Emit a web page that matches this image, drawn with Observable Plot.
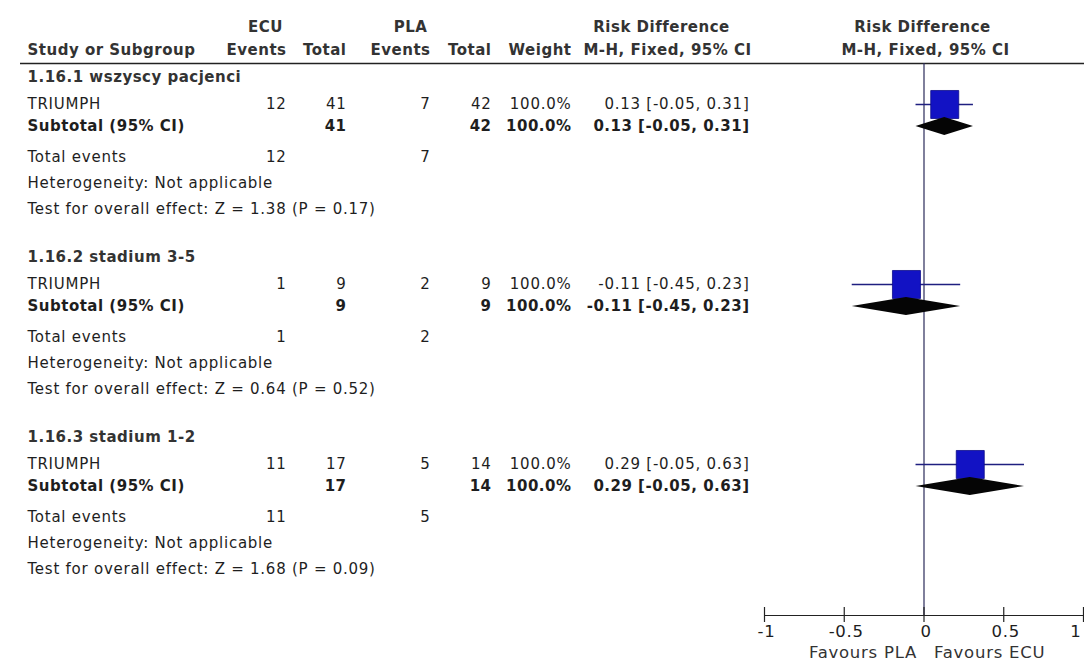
<!DOCTYPE html>
<html>
<head>
<meta charset="utf-8">
<script src="https://cdn.jsdelivr.net/npm/d3@7"></script>
<script src="https://cdn.jsdelivr.net/npm/@observablehq/plot@0.6"></script>
<style>
  html, body { margin: 0; padding: 0; background: #fff; }
  #chart { width: 1084px; height: 660px; }
  svg text { letter-spacing: 0.75px; }
  svg g[font-weight="bold"] text { letter-spacing: 0.5px; }
</style>
</head>
<body>
<div id="chart"></div>
<script>
// ---- Data ----
const groups = ["1.16.1 wszyscy pacjenci", "1.16.2 stadium 3-5", "1.16.3 stadium 1-2"];
const studies = ["TRIUMPH", "TRIUMPH", "TRIUMPH"];
const ecuEvents = [12, 1, 11];
const ecuTotal = [41, 9, 17];
const plaEvents = [7, 2, 5];
const plaTotal = [42, 9, 14];
const weights = ["100.0%", "100.0%", "100.0%"];
const riskDiff = [0.13, -0.11, 0.29];
const ciLow = [-0.05, -0.45, -0.05];
const ciHigh = [0.31, 0.23, 0.63];
const heterogeneity = ["Not applicable", "Not applicable", "Not applicable"];
const zValues = ["1.38", "0.64", "1.68"];
const pValues = ["0.17", "0.52", "0.09"];
const xTicks = [-1, -0.5, 0, 0.5, 1];
const xTickLabels = ["-1", "-0.5", "0", "0.5", "1"];
const favoursLeft = "Favours PLA";
const favoursRight = "Favours ECU";

// ---- Layout (pixels) ----
const W = 1084, H = 660;
const FS = 15;
const FS_AXIS = 16.5;
const FONT = '"DejaVu Sans", "Liberation Sans", Arial, sans-serif';
const groupTop = (g) => 77 + g * 180;
const OFF = {head: 0, study: 27, sub: 49, tot: 80, het: 106, test: 132};
const colX = {label: 27, ecuEv: 286, ecuTot: 346, plaEv: 430, plaTot: 491, weight: 571, ci: 749};
const axisY = 615, headerLine = 63;

const fmt = (v) => v.toFixed(2);
const ciText = (i) => `${fmt(riskDiff[i])} [${fmt(ciLow[i])}, ${fmt(ciHigh[i])}]`;

const rows = groups.map((name, i) => ({
  i, name, study: studies[i],
  ee: ecuEvents[i], et: ecuTotal[i], pe: plaEvents[i], pt: plaTotal[i],
  w: weights[i], rd: riskDiff[i], lo: ciLow[i], hi: ciHigh[i],
  ci: ciText(i),
  het: `Heterogeneity: ${heterogeneity[i]}`,
  test: `Test for overall effect: Z = ${zValues[i]} (P = ${pValues[i]})`,
  yHead: groupTop(i) + OFF.head, yStudy: groupTop(i) + OFF.study, ySub: groupTop(i) + OFF.sub,
  yTot: groupTop(i) + OFF.tot, yHet: groupTop(i) + OFF.het, yTest: groupTop(i) + OFF.test
}));

const diamond = rows.flatMap(r => [
  {g: r.i, x: r.lo, y1: r.ySub, y2: r.ySub},
  {g: r.i, x: r.rd, y1: r.ySub - 9, y2: r.ySub + 9},
  {g: r.i, x: r.hi, y1: r.ySub, y2: r.ySub}
]);

const textColor = "#1e1e1e";
const headColor = "#333";

function col(data, text, y, dx, anchor = "end", weight = "normal", fill = textColor) {
  return Plot.text(data, {text, y, frameAnchor: "left", dx, textAnchor: anchor, fontWeight: weight, fill, fontSize: FS});
}

const headers1 = [
  {t: "ECU", x: 265}, {t: "PLA", x: 410}, {t: "Risk Difference", x: 661}, {t: "Risk Difference", x: 922}
];
const headers2 = [
  {t: "Study or Subgroup", x: colX.label, a: "start"},
  {t: "Events", x: colX.ecuEv, a: "end"}, {t: "Total", x: colX.ecuTot, a: "end"},
  {t: "Events", x: colX.plaEv, a: "end"}, {t: "Total", x: colX.plaTot, a: "end"},
  {t: "Weight", x: colX.weight, a: "end"},
  {t: "M-H, Fixed, 95% CI", x: 667, a: "middle"},
  {t: "M-H, Fixed, 95% CI", x: 925, a: "middle"}
];

const marks = [
  ...headers1.map(h => Plot.text([h], {text: "t", y: () => 27, frameAnchor: "left", dx: h.x, textAnchor: "middle", fontWeight: "bold", fill: headColor, fontSize: FS})),
  ...headers2.map(h => Plot.text([h], {text: "t", y: () => 50, frameAnchor: "left", dx: h.x, textAnchor: h.a, fontWeight: "bold", fill: headColor, fontSize: FS})),
  Plot.ruleY([headerLine], {y: d => d, x1: () => -1 - (764 - 20) / 159.5, x2: () => 1.01, stroke: "#222", strokeWidth: 1.3}),
  col(rows, "name", "yHead", colX.label, "start", "bold", headColor),
  col(rows, "study", "yStudy", colX.label, "start"),
  col(rows, "ee", "yStudy", colX.ecuEv),
  col(rows, "et", "yStudy", colX.ecuTot),
  col(rows, "pe", "yStudy", colX.plaEv),
  col(rows, "pt", "yStudy", colX.plaTot),
  col(rows, "w", "yStudy", colX.weight),
  col(rows, "ci", "yStudy", colX.ci),
  col(rows, () => "Subtotal (95% CI)", "ySub", colX.label, "start", "bold"),
  col(rows, "et", "ySub", colX.ecuTot, "end", "bold"),
  col(rows, "pt", "ySub", colX.plaTot, "end", "bold"),
  col(rows, "w", "ySub", colX.weight, "end", "bold"),
  col(rows, "ci", "ySub", colX.ci, "end", "bold"),
  col(rows, () => "Total events", "yTot", colX.label, "start"),
  col(rows, "ee", "yTot", colX.ecuEv),
  col(rows, "pe", "yTot", colX.plaEv),
  col(rows, "het", "yHet", colX.label, "start"),
  col(rows, "test", "yTest", colX.label, "start"),
  Plot.ruleX([0], {y1: () => headerLine, y2: () => axisY, stroke: "#2a2a5a", strokeWidth: 1.2}),
  Plot.ruleY(rows, {y: "yStudy", x1: "lo", x2: "hi", stroke: "#1f1f80", strokeWidth: 1.3}),
  Plot.dot(rows, {x: "rd", y: "yStudy", symbol: "square", r: 15.8, fill: "#1212c4", stroke: "#0c0c8a", strokeWidth: 0.8}),
  Plot.areaY(diamond, {x: "x", y1: "y1", y2: "y2", z: "g", fill: "#050505", curve: "linear"}),
  Plot.ruleY([axisY], {y: d => d, x1: () => -1, x2: () => 1, stroke: "#222", strokeWidth: 1.2}),
  Plot.ruleX(xTicks, {x: d => d, y1: () => axisY - 8, y2: () => axisY + 7, stroke: "#222", strokeWidth: 1.2}),
  Plot.text(xTicks.slice(0, -1), {x: d => d, y: () => axisY + 16, text: (d, i) => xTickLabels[i], dx: 2, fill: textColor, fontSize: FS_AXIS}),
  Plot.text(xTicks.slice(-1), {x: d => d, y: () => axisY + 16, text: () => xTickLabels[xTickLabels.length - 1], textAnchor: "end", dx: -2, fill: textColor, fontSize: FS_AXIS}),
  Plot.text([favoursLeft], {x: () => 0, y: () => axisY + 37, text: d => d, textAnchor: "end", dx: -7, fill: "#333", fontSize: FS_AXIS}),
  Plot.text([favoursRight], {x: () => 0, y: () => axisY + 37, text: d => d, textAnchor: "start", dx: 10, fill: "#333", fontSize: FS_AXIS})
];

const chart = Plot.plot({
  width: W, height: H,
  marginTop: 0, marginBottom: 0, marginLeft: 0, marginRight: 0,
  x: {domain: [-1, 1], range: [764, 1083], axis: null},
  y: {domain: [0, H], range: [0, H], axis: null},
  style: {fontFamily: FONT, background: "#fff", overflow: "visible"},
  marks
});
document.getElementById("chart").appendChild(chart);
</script>
</body>
</html>
